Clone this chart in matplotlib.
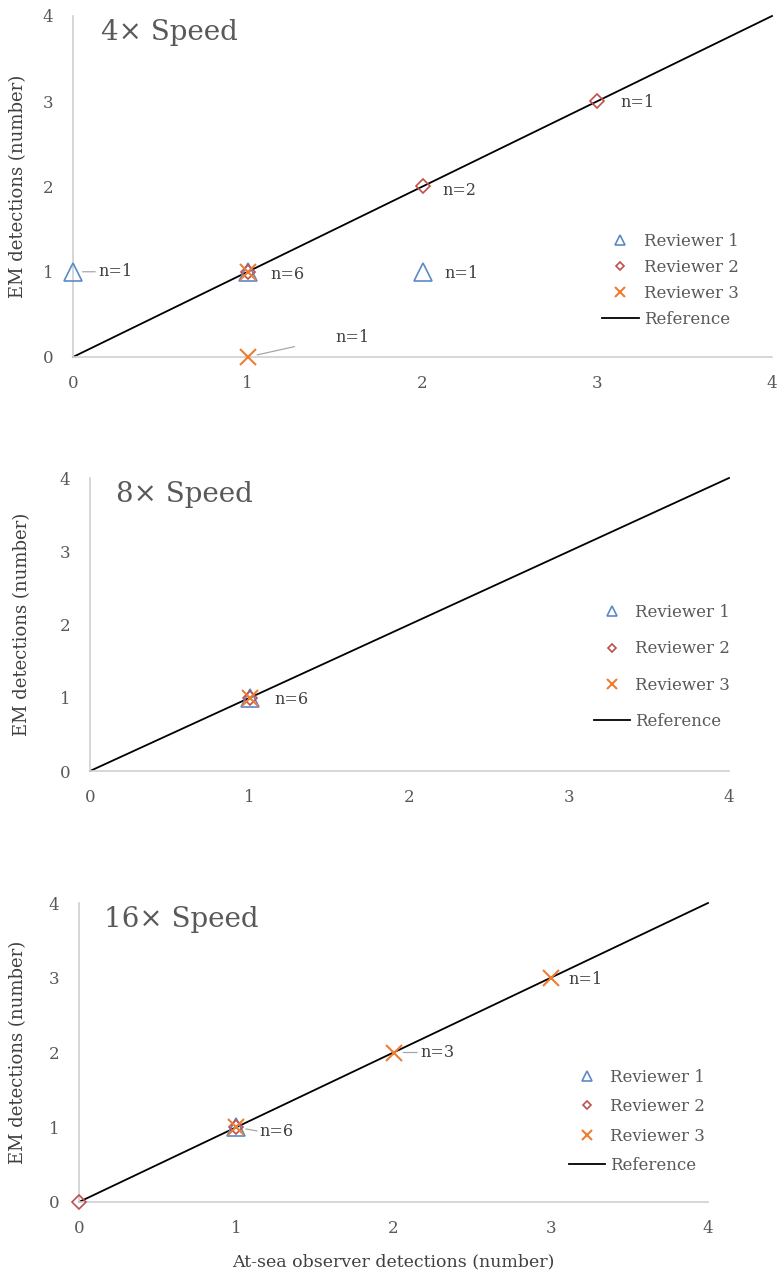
"""
Three scatter panels: EM detections vs at-sea observer detections
at 4x, 8x and 16x review speed, one marker per reviewer.
"""

import matplotlib
matplotlib.use("Agg")
import matplotlib.pyplot as plt

# ─── Data ─────────────────────────────────────────────────────────────────────

speeds = ["4× Speed", "8× Speed", "16× Speed"]
reviewers = ["Reviewer 1", "Reviewer 2", "Reviewer 3"]

# (observer, EM) pairs per reviewer, per panel
r1_x = [[0, 1, 2], [1], [1]]
r1_y = [[1, 1, 1], [1], [1]]
r2_x = [[1, 2, 3], [1], [0, 1]]
r2_y = [[1, 2, 3], [1], [0, 1]]
r3_x = [[1, 1], [1], [1, 2, 3]]
r3_y = [[1, 0], [1], [1, 2, 3]]

ref_x = [0, 4]
ref_y = [0, 4]

# count labels: (x, y, text)
labels = [
    [(0, 1, "n=1"), (1, 1, "n=6"), (2, 1, "n=1"), (1, 0, "n=1"),
     (2, 2, "n=2"), (3, 3, "n=1")],
    [(1, 1, "n=6")],
    [(1, 1, "n=6"), (2, 2, "n=3"), (3, 3, "n=1")],
]

ticks = [0, 1, 2, 3, 4]

# ─── Style ────────────────────────────────────────────────────────────────────

BLUE   = "#5B8AC6"
RED    = "#C0504D"
ORANGE = "#ED7D31"
GREY   = "#595959"
AXIS   = "#D0D0D0"

plt.rcParams["font.family"] = ["DejaVu Serif"]

W, H = 778, 1278
# axes boxes in pixels: left, right, top (y=4), bottom (y=0)
boxes = [(73, 772, 16, 357), (90, 729, 478, 771), (79, 708, 903, 1202)]
legend_anchor = [(0.745, 0.225), (0.775, 0.355), (0.765, 0.27)]
legend_spacing = [0.55, 1.15, 0.75]
ylabel_x = [18, 22, 18]

# label offsets (points) per panel, per label
offsets = [
    [(18, 0), (16, -2), (16, -1), (63, 14), (14, -3), (17, -1)],
    [(18, -1)],
    [(17, -3), (19, 0), (13, -1)],
]
leaders = [
    [True, False, False, True, False, False],
    [False],
    [True, True, False],
]
leader_gap = [
    [0, 0, 0, 28, 0, 0],
    [0],
    [0, 0, 0],
]

fig = plt.figure(figsize=(W / 100, H / 100), dpi=100)

for i, title in enumerate(speeds):
    l, r, t, b = boxes[i]
    ax = fig.add_axes([l / W, 1 - b / H, (r - l) / W, (b - t) / H])

    ax.plot(ref_x, ref_y, color="black", lw=1.3, label="Reference", zorder=2)
    ax.plot(r1_x[i], r1_y[i], ls="none", marker="^", ms=13, mfc="none",
            mec=BLUE, mew=1.2, label=reviewers[0], zorder=3)
    ax.plot(r2_x[i], r2_y[i], ls="none", marker="D", ms=7, mfc="none",
            mec=RED, mew=1.2, label=reviewers[1], zorder=4)
    ax.plot(r3_x[i], r3_y[i], ls="none", marker="x", ms=11,
            mec=ORANGE, mew=1.5, label=reviewers[2], zorder=5)

    for k, (x, y, txt) in enumerate(labels[i]):
        dx, dy = offsets[i][k]
        props = None
        if leaders[i][k]:
            props = dict(arrowstyle="-", color="#A6A6A6", lw=0.9,
                         shrinkA=leader_gap[i][k], shrinkB=7,
                         relpos=(0, 0.5))
        ax.annotate(txt, (x, y), xytext=(dx, dy), textcoords="offset points",
                    fontsize=11.5, color="#404040", va="center", ha="left",
                    arrowprops=props)

    ax.set_xlim(0, 4)
    ax.set_ylim(0, 4)
    ax.set_xticks(ticks)
    ax.set_yticks(ticks)
    ax.tick_params(length=0, labelsize=12, labelcolor=GREY)
    ax.tick_params(axis="x", pad=13)
    ax.tick_params(axis="y", pad=14)
    for s in ("top", "right"):
        ax.spines[s].set_visible(False)
    for s in ("left", "bottom"):
        ax.spines[s].set_color(AXIS)
        ax.spines[s].set_linewidth(1.2)
    for ln in ax.lines:
        ln.set_clip_on(False)

    ax.text(0.04, 0.99, title, transform=ax.transAxes, fontsize=20,
            color=GREY, va="top", ha="left")

    handles, names = ax.get_legend_handles_labels()
    order = [1, 2, 3, 0]
    ax.legend([handles[j] for j in order], [names[j] for j in order],
              loc="center left", bbox_to_anchor=legend_anchor[i],
              frameon=False, fontsize=12, labelcolor=GREY,
              markerscale=0.6, handlelength=2.2, handletextpad=0.3,
              labelspacing=legend_spacing[i], borderpad=0)

    fig.text(ylabel_x[i] / W, 1 - (t + b) / 2 / H, "EM detections (number)",
             rotation=90, ha="center", va="center", fontsize=13,
             color="#404040")

fig.text(393 / W, 1 - 1262 / H, "At-sea observer detections (number)",
         ha="center", va="center", fontsize=12.5, color="#404040")

fig.savefig("out.png", dpi=100)
